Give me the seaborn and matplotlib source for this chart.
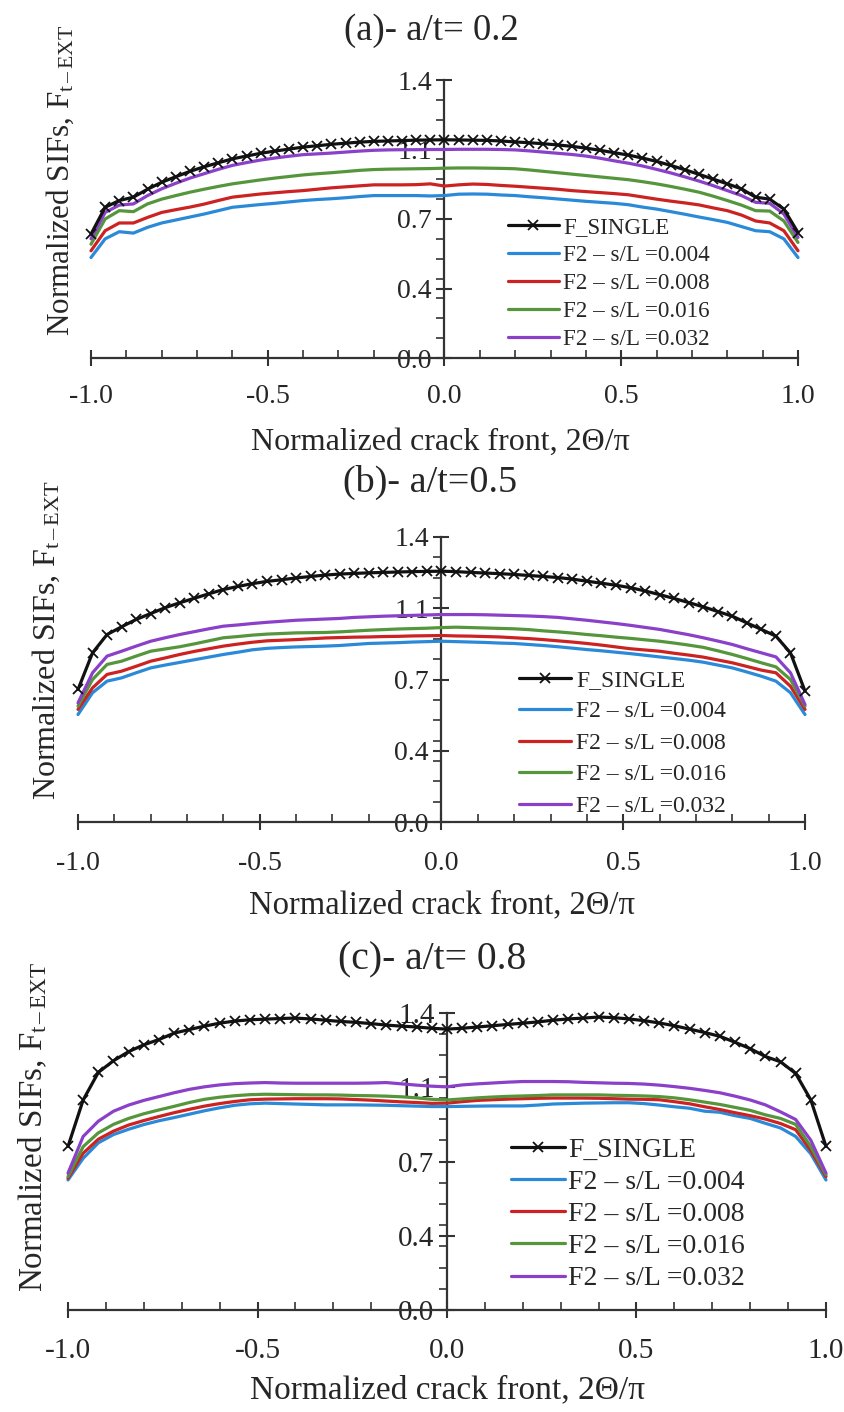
import numpy as np
import pandas as pd
import matplotlib
matplotlib.use("Agg")
import matplotlib.pyplot as plt
import seaborn as sns
from matplotlib.ticker import MultipleLocator, FixedLocator, FixedFormatter

# ---------------- data ----------------
x_pos = [-1.00, -0.96, -0.92, -0.88, -0.84, -0.80, -0.76, -0.72, -0.68, -0.64,
         -0.60, -0.56, -0.52, -0.48, -0.44, -0.40, -0.36, -0.32, -0.28, -0.24,
         -0.20, -0.16, -0.12, -0.08, -0.04, 0.00, 0.04, 0.08, 0.12, 0.16,
         0.20, 0.24, 0.28, 0.32, 0.36, 0.40, 0.44, 0.48, 0.52, 0.56,
         0.60, 0.64, 0.68, 0.72, 0.76, 0.80, 0.84, 0.88, 0.92, 0.96, 1.00]

series_names = ["F_SINGLE", "F2 \u2013 s/L =0.004", "F2 \u2013 s/L =0.008",
                "F2 \u2013 s/L =0.016", "F2 \u2013 s/L =0.032"]

# (a) a/t = 0.2
a_single = [0.624, 0.759, 0.793, 0.810, 0.850, 0.885, 0.913, 0.940, 0.963, 0.983,
            1.003, 1.017, 1.031, 1.042, 1.052, 1.062, 1.069, 1.076, 1.082, 1.087,
            1.091, 1.093, 1.095, 1.097, 1.098, 1.099, 1.098, 1.097, 1.096, 1.093,
            1.088, 1.084, 1.079, 1.073, 1.066, 1.057, 1.046, 1.034, 1.022, 1.007,
            0.990, 0.970, 0.948, 0.925, 0.901, 0.877, 0.852, 0.810, 0.800, 0.750, 0.632]
a_s004 = [0.506, 0.600, 0.636, 0.629, 0.658, 0.680, 0.695, 0.710, 0.725, 0.742,
          0.759, 0.766, 0.773, 0.779, 0.786, 0.793, 0.798, 0.802, 0.807, 0.813,
          0.818, 0.818, 0.818, 0.818, 0.816, 0.818, 0.825, 0.826, 0.825, 0.821,
          0.818, 0.812, 0.807, 0.801, 0.795, 0.789, 0.784, 0.779, 0.772, 0.760,
          0.750, 0.737, 0.724, 0.710, 0.697, 0.683, 0.662, 0.641, 0.636, 0.600, 0.506]
a_s008 = [0.540, 0.641, 0.680, 0.680, 0.708, 0.733, 0.747, 0.760, 0.775, 0.793,
          0.810, 0.818, 0.826, 0.832, 0.838, 0.843, 0.850, 0.857, 0.862, 0.867,
          0.872, 0.872, 0.872, 0.873, 0.877, 0.866, 0.872, 0.876, 0.874, 0.869,
          0.865, 0.860, 0.855, 0.850, 0.843, 0.838, 0.833, 0.828, 0.822, 0.811,
          0.800, 0.790, 0.781, 0.771, 0.756, 0.742, 0.720, 0.690, 0.680, 0.641, 0.540]
a_s016 = [0.573, 0.700, 0.742, 0.737, 0.776, 0.800, 0.818, 0.835, 0.850, 0.864,
          0.877, 0.887, 0.897, 0.906, 0.914, 0.922, 0.928, 0.933, 0.939, 0.945,
          0.949, 0.951, 0.952, 0.953, 0.954, 0.956, 0.957, 0.957, 0.956, 0.955,
          0.953, 0.947, 0.940, 0.933, 0.926, 0.919, 0.912, 0.905, 0.898, 0.888,
          0.877, 0.864, 0.850, 0.835, 0.815, 0.793, 0.770, 0.742, 0.740, 0.690, 0.582]
a_s032 = [0.600, 0.733, 0.770, 0.776, 0.818, 0.852, 0.880, 0.906, 0.928, 0.950,
          0.970, 0.984, 0.997, 1.007, 1.016, 1.024, 1.028, 1.032, 1.037, 1.042,
          1.046, 1.048, 1.049, 1.049, 1.050, 1.050, 1.051, 1.051, 1.051, 1.050,
          1.048, 1.043, 1.037, 1.031, 1.025, 1.017, 1.006, 0.993, 0.981, 0.967,
          0.950, 0.932, 0.912, 0.891, 0.868, 0.843, 0.818, 0.784, 0.779, 0.725, 0.607]

# (b) a/t = 0.5
b_single = [0.651, 0.831, 0.921, 0.959, 0.995, 1.024, 1.053, 1.077, 1.099, 1.121,
            1.142, 1.157, 1.171, 1.182, 1.190, 1.199, 1.206, 1.213, 1.218, 1.221,
            1.224, 1.226, 1.228, 1.230, 1.231, 1.232, 1.230, 1.226, 1.223, 1.220,
            1.216, 1.211, 1.206, 1.201, 1.193, 1.183, 1.173, 1.163, 1.151, 1.135,
            1.117, 1.098, 1.078, 1.057, 1.034, 1.011, 0.978, 0.946, 0.913, 0.831, 0.643]
b_s004 = [0.528, 0.635, 0.692, 0.708, 0.733, 0.757, 0.771, 0.784, 0.797, 0.810,
          0.823, 0.834, 0.846, 0.853, 0.857, 0.860, 0.862, 0.864, 0.867, 0.872,
          0.877, 0.879, 0.881, 0.884, 0.886, 0.888, 0.886, 0.884, 0.882, 0.879,
          0.877, 0.872, 0.867, 0.861, 0.854, 0.847, 0.841, 0.834, 0.827, 0.819,
          0.811, 0.803, 0.795, 0.785, 0.771, 0.757, 0.737, 0.716, 0.692, 0.635, 0.528]
b_s008 = [0.553, 0.659, 0.725, 0.741, 0.765, 0.790, 0.806, 0.823, 0.838, 0.851,
          0.864, 0.874, 0.883, 0.890, 0.893, 0.896, 0.900, 0.904, 0.906, 0.908,
          0.909, 0.911, 0.912, 0.914, 0.915, 0.916, 0.914, 0.913, 0.911, 0.909,
          0.905, 0.901, 0.896, 0.890, 0.884, 0.877, 0.869, 0.860, 0.851, 0.845,
          0.839, 0.829, 0.820, 0.810, 0.796, 0.782, 0.764, 0.746, 0.733, 0.667, 0.553]
b_s016 = [0.569, 0.700, 0.774, 0.790, 0.815, 0.839, 0.850, 0.861, 0.875, 0.890,
          0.905, 0.911, 0.918, 0.923, 0.926, 0.929, 0.930, 0.931, 0.934, 0.938,
          0.942, 0.945, 0.948, 0.950, 0.952, 0.955, 0.957, 0.955, 0.953, 0.951,
          0.949, 0.945, 0.939, 0.934, 0.928, 0.921, 0.915, 0.908, 0.902, 0.895,
          0.888, 0.879, 0.869, 0.858, 0.841, 0.823, 0.803, 0.782, 0.762, 0.700, 0.569]
b_s032 = [0.585, 0.733, 0.815, 0.839, 0.864, 0.888, 0.905, 0.921, 0.935, 0.949,
          0.962, 0.968, 0.975, 0.981, 0.986, 0.991, 0.994, 0.997, 1.000, 1.005,
          1.008, 1.011, 1.013, 1.015, 1.017, 1.019, 1.019, 1.019, 1.018, 1.016,
          1.014, 1.012, 1.009, 1.005, 0.998, 0.991, 0.983, 0.975, 0.966, 0.956,
          0.946, 0.933, 0.920, 0.905, 0.889, 0.872, 0.851, 0.831, 0.811, 0.733, 0.577]

# (c) a/t = 0.8
c_single = [0.771, 0.990, 1.120, 1.175, 1.218, 1.250, 1.275, 1.305, 1.322, 1.338,
            1.352, 1.362, 1.368, 1.371, 1.374, 1.376, 1.372, 1.366, 1.360, 1.356,
            1.350, 1.343, 1.338, 1.334, 1.328, 1.324, 1.328, 1.334, 1.340, 1.346,
            1.352, 1.358, 1.366, 1.372, 1.376, 1.381, 1.378, 1.372, 1.364, 1.353,
            1.340, 1.324, 1.308, 1.290, 1.262, 1.232, 1.195, 1.170, 1.115, 0.990, 0.771]
c_s004 = [0.613, 0.715, 0.788, 0.827, 0.852, 0.874, 0.892, 0.907, 0.923, 0.939,
          0.953, 0.965, 0.972, 0.975, 0.973, 0.971, 0.969, 0.967, 0.967, 0.967,
          0.966, 0.965, 0.963, 0.961, 0.959, 0.959, 0.960, 0.961, 0.962, 0.962,
          0.962, 0.966, 0.971, 0.973, 0.975, 0.976, 0.977, 0.977, 0.973, 0.966,
          0.958, 0.951, 0.937, 0.932, 0.916, 0.903, 0.880, 0.858, 0.818, 0.736, 0.613]
c_s008 = [0.621, 0.739, 0.805, 0.843, 0.872, 0.893, 0.912, 0.930, 0.946, 0.961,
          0.973, 0.983, 0.991, 0.994, 0.995, 0.996, 0.996, 0.996, 0.995, 0.992,
          0.989, 0.985, 0.981, 0.978, 0.974, 0.975, 0.982, 0.988, 0.991, 0.994,
          0.996, 0.998, 0.999, 0.999, 0.999, 0.998, 0.996, 0.994, 0.993, 0.991,
          0.982, 0.972, 0.958, 0.945, 0.930, 0.916, 0.900, 0.879, 0.850, 0.752, 0.629]
c_s016 = [0.629, 0.770, 0.835, 0.875, 0.903, 0.925, 0.943, 0.960, 0.978, 0.993,
          1.003, 1.010, 1.015, 1.017, 1.016, 1.015, 1.014, 1.014, 1.013, 1.011,
          1.010, 1.008, 1.005, 1.000, 0.993, 0.990, 0.995, 1.000, 1.004, 1.007,
          1.009, 1.011, 1.014, 1.014, 1.014, 1.014, 1.012, 1.011, 1.009, 1.006,
          1.000, 0.991, 0.980, 0.969, 0.955, 0.941, 0.920, 0.903, 0.875, 0.770, 0.637]
c_s032 = [0.645, 0.818, 0.890, 0.937, 0.966, 0.988, 1.006, 1.024, 1.040, 1.052,
          1.061, 1.067, 1.070, 1.072, 1.070, 1.069, 1.069, 1.069, 1.069, 1.069,
          1.070, 1.072, 1.066, 1.060, 1.055, 1.052, 1.061, 1.066, 1.070, 1.074,
          1.077, 1.077, 1.077, 1.076, 1.073, 1.071, 1.069, 1.068, 1.065, 1.060,
          1.053, 1.045, 1.035, 1.024, 1.008, 0.990, 0.967, 0.934, 0.898, 0.800, 0.645]

panel_titles = ["(a)- a/t= 0.2", "(b)- a/t=0.5", "(c)- a/t= 0.8"]
panel_series = [
    [a_single, a_s004, a_s008, a_s016, a_s032],
    [b_single, b_s004, b_s008, b_s016, b_s032],
    [c_single, c_s004, c_s008, c_s016, c_s032],
]
y_ticks = [0.0, 0.35, 0.7, 1.05, 1.4]
y_tick_labels = ["0.0", "0.4", "0.7", "1.1", "1.4"]
x_label = "Normalized crack front, 2\u0398/\u03c0"
y_label = "Normalized SIFs, F$_{\\mathrm{t\\,\u2013\\,EXT}}$"

# ---------------- style ----------------
sns.set_theme(style="ticks")
plt.rcParams["font.family"] = ["Liberation Serif", "DejaVu Serif"]
plt.rcParams["mathtext.fontset"] = "custom"
plt.rcParams["mathtext.rm"] = "Liberation Serif"
plt.rcParams["mathtext.it"] = "Liberation Serif:italic"
plt.rcParams["axes.unicode_minus"] = False

colors = ["#111111", "#2a8ad8", "#cc2222", "#55963c", "#8a40c8"]
txt_col = "#262626"
ax_col = "#333333"

W, H = 845, 1412
fig = plt.figure(figsize=(W / 100, H / 100), dpi=100)

def rect(l, r, t, b):
    return [l / W, 1 - b / H, (r - l) / W, (b - t) / H]

layout = [
    dict(rect=rect(91, 798, 80, 358), title=(431, 31), tfs=26.5, xlab=(440, 442), xfs=23,
         ylab=(60, 180), yfs=22.4, tick=20, pad=13,
         leg=(0.590, 0.509), legfs=16.6, ls=0.3, hl=2.2, htp=0.2),
    dict(rect=rect(78, 805, 537, 822), title=(430, 482), tfs=27.5, xlab=(442, 905), xfs=23.5,
         ylab=(46, 640), yfs=23, tick=20, pad=15,
         leg=(0.607, 0.535), legfs=17, ls=0.42, hl=2.2, htp=0.2),
    dict(rect=rect(68, 826, 1013, 1310), title=(432, 960), tfs=28.5, xlab=(448, 1390), xfs=24,
         ylab=(33, 1127), yfs=23.8, tick=21, pad=14,
         leg=(0.584, 0.581), legfs=20, ls=0.24, hl=1.95, htp=0.12),
]

for p, lay in enumerate(layout):
    ax = fig.add_axes(lay["rect"])
    frames = []
    for name, vals in zip(series_names, panel_series[p]):
        frames.append(pd.DataFrame({"x": x_pos, "F": vals, "series": name}))
    df = pd.concat(frames, ignore_index=True)

    # colored series first, black on top
    for k in [1, 2, 3, 4, 0]:
        sub = df[df["series"] == series_names[k]]
        kw = dict(lw=2.3)
        if k == 0:
            kw.update(marker="x", markersize=7.5, markeredgewidth=1.3,
                      markeredgecolor=colors[0], markerfacecolor=colors[0], zorder=5)
        else:
            kw.update(zorder=3)
        sns.lineplot(data=sub, x="x", y="F", color=colors[k], ax=ax,
                     label=series_names[k], estimator=None, sort=False,
                     clip_on=False, **kw)

    ax.set_xlim(-1.0, 1.0)
    ax.set_ylim(0.0, 1.4)
    ax.spines["left"].set_position(("data", 0))
    ax.spines["bottom"].set_position(("data", 0))
    ax.spines["top"].set_visible(False)
    ax.spines["right"].set_visible(False)
    for s in ["left", "bottom"]:
        ax.spines[s].set_color(ax_col)
        ax.spines[s].set_linewidth(1.6)

    ax.xaxis.set_major_locator(MultipleLocator(0.5))
    ax.xaxis.set_minor_locator(MultipleLocator(0.1))
    ax.xaxis.set_major_formatter(matplotlib.ticker.FormatStrFormatter("%.1f"))
    ax.yaxis.set_major_locator(FixedLocator(y_ticks))
    ax.yaxis.set_major_formatter(FixedFormatter(y_tick_labels))
    ax.yaxis.set_minor_locator(MultipleLocator(0.1))

    ax.tick_params(axis="x", which="major", direction="inout", length=12, width=1.5,
                   colors=ax_col, labelcolor=txt_col, labelsize=lay["tick"], pad=lay["pad"])
    ax.tick_params(axis="x", which="minor", direction="in", length=6, width=1.2, colors=ax_col)
    ax.tick_params(axis="y", which="major", direction="inout", length=12, width=1.5,
                   colors=ax_col, labelcolor=txt_col, labelsize=lay["tick"], pad=3)
    ax.tick_params(axis="y", which="minor", direction="out", length=6, width=1.2, colors=ax_col)
    ax.set_xlabel("")
    ax.set_ylabel("")
    ax.set_facecolor("none")

    handles, labels = ax.get_legend_handles_labels()
    order = [labels.index(n) for n in series_names]
    ax.legend([handles[i] for i in order], [labels[i] for i in order],
              loc="upper left", bbox_to_anchor=lay["leg"], frameon=False,
              fontsize=lay["legfs"], handlelength=lay["hl"], handletextpad=lay["htp"],
              borderpad=0, borderaxespad=0, labelspacing=lay["ls"],
              labelcolor=txt_col)

    tx, ty = lay["title"]
    fig.text(tx / W, 1 - ty / H, panel_titles[p], ha="center", va="center",
             fontsize=lay["tfs"], color=txt_col)
    xx, xy = lay["xlab"]
    fig.text(xx / W, 1 - xy / H, x_label, ha="center", va="center",
             fontsize=lay["xfs"], color=txt_col)
    yx, yy = lay["ylab"]
    fig.text(yx / W, 1 - yy / H, y_label, ha="center", va="center",
             rotation=90, fontsize=lay["yfs"], color=txt_col)

fig.savefig("out.png", dpi=100, facecolor="white")
